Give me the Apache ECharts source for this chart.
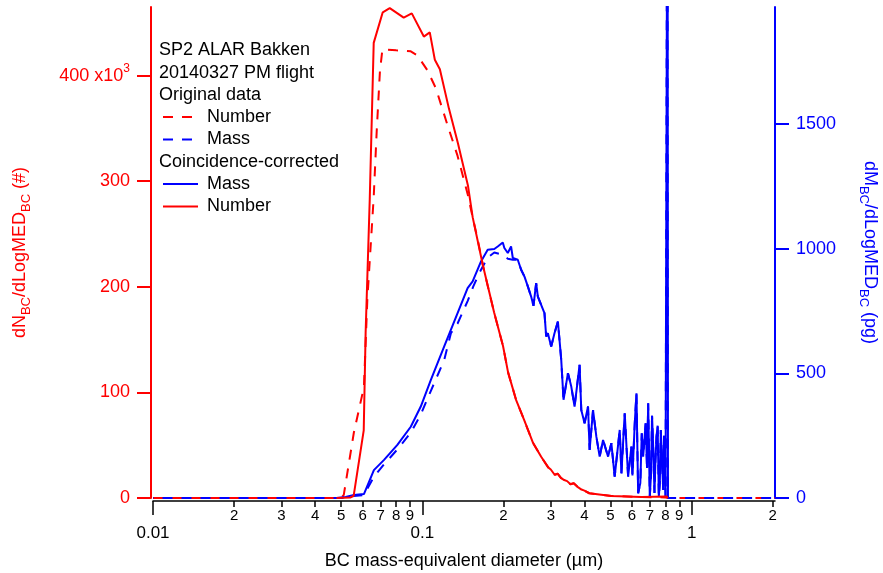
<!DOCTYPE html>
<html><head><meta charset="utf-8">
<script src="https://cdn.jsdelivr.net/npm/echarts@6/dist/echarts.min.js"></script>
<style>html,body{margin:0;padding:0;background:#fff}#c{width:883px;height:573px}</style>
</head><body><div id="c"></div>
<script>
// ---- data (diameter in µm; number in 10^3 #; mass in pg) ----
const diamOrigNumber = [0.01,0.05,0.0511,0.0557,0.0607,0.0625,0.0660,0.0677,0.0696,0.0711,0.080,0.0906,0.0960,0.1045,0.1123,0.1241,0.1352,0.1473,0.1538,0.1605,0.1680,0.1749,0.1851,0.1994,0.2082,0.2229,0.2388,0.2579,0.2763,0.2934,0.300,0.310,0.318,0.327,0.3365,0.345,0.355,0.365,0.3795,0.390,0.400,0.4170,0.5035,0.6514,0.80,0.82,2.04];
const valOrigNumber  = [0,0,3,62,105,188,285,347,404,425,424,423,419,405,388,353,324,288,266,245,220,201,175,144,119,93,74,52,39,29,27,22,23,19,17,16,13,14,10,8,7,4.5,2,1,0.5,0,0];

const diamCorrNumber = [0.048,0.054,0.0556,0.0606,0.0616,0.0638,0.0660,0.0713,0.0757,0.0853,0.0914,0.1013,0.1066,0.1113,0.1162,0.1255,0.1356,0.1477,0.1538,0.1680,0.1847,0.1994,0.2082,0.2229,0.2388,0.2579,0.2763,0.2934,0.300,0.310,0.318,0.327,0.3365,0.345,0.355,0.365,0.3795,0.390,0.400,0.4170,0.5035,0.6514,0.8073,0.815];
const valCorrNumber  = [0,0.5,2,64,157,283,431,460,464,455,459,437,441,415,406,369,336,296,266,220,176,144,119,93,74,52,39,29,27,22,23,19,17,16,13,14,10,8,7,4.5,2,1,1.5,0];

const diamOrigMass = [0.01,0.05,0.0557,0.0607,0.0661,0.0721,0.0808,0.0906,0.0987,0.1076,0.1206,0.1277,0.1352,0.1473,0.1548,0.1627,0.1749,0.1851,0.1990,0.2077,0.2168,0.2262,0.2328,0.2394,0.2465,0.2536,0.2587,0.2647,0.2686,0.2842,0.2884,0.2926,0.3010,0.3096,0.3188,0.3280,0.3345,0.3474,0.3574,0.3676,0.3837,0.3893,0.4005,0.4124,0.4181,0.4305,0.4429,0.4556,0.4690,0.4896,0.5035,0.5180,0.5408,0.5487,0.5644,0.5810,0.5977,0.6030,0.6150,0.6240,0.6331,0.6450,0.6530,0.6608,0.6750,0.6830,0.6898,0.6994,0.7070,0.7130,0.7200,0.7280,0.7340,0.7407,0.7480,0.7555,0.7620,0.7686,0.7760,0.7845,0.7900,0.7954,0.8002,0.8130,0.8160,2.04];
const valOrigMass  = [0,0,8,12,85,135,195,262,335,430,554,661,700,790,850,902,965,985,976,960,956,956,916,889,849,808,771,862,808,742,648,661,608,661,708,554,394,501,447,367,534,353,300,367,193,353,246,166,233,166,220,86,273,99,340,86,206,90,300,420,19,60,260,166,300,120,380,5,100,330,206,20,150,246,290,5,60,273,150,32,250,166,5,3000,0,0];

const diamCorrMass = [0.048,0.0519,0.0557,0.0607,0.0661,0.0721,0.0808,0.0906,0.0987,0.1076,0.1206,0.1352,0.1473,0.1538,0.1652,0.1749,0.1851,0.1906,0.1990,0.2017,0.2077,0.2136,0.2168,0.2262,0.2328,0.2394,0.2465,0.2536,0.2587,0.2647,0.2686,0.2842,0.2884,0.2926,0.3010,0.3096,0.3188,0.3280,0.3345,0.3474,0.3574,0.3676,0.3837,0.3893,0.4005,0.4124,0.4181,0.4305,0.4429,0.4556,0.4690,0.4896,0.5035,0.5180,0.5408,0.5487,0.5644,0.5810,0.5977,0.6030,0.6150,0.6240,0.6331,0.6450,0.6530,0.6608,0.6750,0.6830,0.6898,0.6994,0.7070,0.7130,0.7200,0.7280,0.7340,0.7407,0.7480,0.7555,0.7620,0.7686,0.7760,0.7845,0.7900,0.7954,0.8002,0.8140,0.8170];
const valCorrMass  = [0,4,12,16,112,153,213,286,367,474,608,742,842,869,949,996,999,1009,1025,1003,983,1009,963,956,916,889,849,808,771,862,808,742,648,661,608,661,708,554,394,501,447,367,534,353,300,367,193,353,246,166,233,166,220,86,273,99,340,86,206,90,300,420,19,60,260,166,300,120,380,5,100,330,206,20,150,246,290,5,60,273,150,32,250,166,5,3000,0];

const xMin = 0.01, xMax = 2.04;
const minorTickValues = [0.02,0.03,0.04,0.05,0.06,0.07,0.08,0.09,0.2,0.3,0.4,0.5,0.6,0.7,0.8,0.9,2];
const minorTickLabels = ['2','3','4','5','6','7','8','9','2','3','4','5','6','7','8','9','2'];
const majorTickValues = [0.01,0.1,1];
const majorTickLabels = ['0.01','0.1','1'];
const leftTickValues = [0,100,200,300,400];
const leftTickLabels = ['0','100','200','300','400 x10{sup|3}'];
const leftMax = 465;
const rightTickValues = [0,500,1000,1500];
const rightTickLabels = ['0','500','1000','1500'];
const rightMax = 1970;

// ---- chart ----
const FONT = 'Liberation Sans, Arial, sans-serif';
const RED = '#ff0000', BLUE = '#0000ff';
function zip(a,b){ return a.map((v,i)=>[v,b[i]]); }
function lookup(vals, labels, v, tf){
  for (let i=0;i<vals.length;i++){ if (Math.abs(tf(vals[i]) - v) < 1e-6) return labels[i]; }
  return '';
}
const lg = Math.log10;
const chart = echarts.init(document.getElementById('c'), null, {renderer:'canvas'});
const legendCommon = {
  orient:'vertical', left:162, padding:0, itemWidth:35, itemHeight:14, itemGap:0.4,
  selectedMode:false, formatter: n => n.split(' (')[0],
  itemStyle:{opacity:0, borderWidth:0},
  textStyle:{fontSize:18, lineHeight:22, color:'#000', fontFamily:FONT, padding:[0,0,0,4]},
  lineStyle:{dashOffset:0}
};
chart.setOption({
  animation:false,
  backgroundColor:'#fff',
  textStyle:{fontFamily:FONT},
  title:[
    {text:'SP2 ALAR Bakken\n20140327 PM flight\nOriginal data', left:159, top:39, padding:0,
     textStyle:{fontSize:18, fontWeight:'normal', color:'#000', lineHeight:22.4, fontFamily:FONT}},
    {text:'Coincidence-corrected', left:159, top:151, padding:0,
     textStyle:{fontSize:18, fontWeight:'normal', color:'#000', lineHeight:22.4, fontFamily:FONT}}
  ],
  legend:[
    Object.assign({data:['Number (original)','Mass (original)'], top:106}, legendCommon),
    Object.assign({data:['Mass (corrected)','Number (corrected)'], top:173}, legendCommon)
  ],
  grid:{left:153, right:108, top:7, bottom:75, containLabel:false, outerBoundsMode:'none'},
  xAxis:[
    {type:'value', min:-2, max:lg(xMax), position:'bottom', offset:3,
     axisLine:{show:true, onZero:false, lineStyle:{color:'#000', width:1.5}},
     axisTick:{show:true, customValues:minorTickValues.map(lg), length:6, lineStyle:{color:'#000', width:1.5}},
     axisLabel:{customValues:minorTickValues.map(lg), formatter:v=>lookup(minorTickValues,minorTickLabels,v,lg),
       fontSize:15, margin:7, color:'#000', fontFamily:FONT},
     splitLine:{show:false},
     name:'BC mass-equivalent diameter (µm)', nameLocation:'middle', nameGap:49,
     nameTextStyle:{fontSize:18, color:'#000', fontFamily:FONT, lineHeight:22}},
    {type:'value', min:-2, max:lg(xMax), position:'bottom', offset:3,
     axisLine:{show:false, onZero:false},
     axisTick:{show:true, customValues:majorTickValues.map(lg), length:14, lineStyle:{color:'#000', width:1.5}},
     axisLabel:{customValues:majorTickValues.map(lg), formatter:v=>lookup(majorTickValues,majorTickLabels,v,lg),
       fontSize:17, margin:24, color:'#000', fontFamily:FONT},
     splitLine:{show:false}},
    {type:'log', logBase:10, min:xMin, max:xMax, show:false, axisLine:{onZero:false}}
  ],
  yAxis:[
    {type:'value', position:'left', min:0, max:leftMax, offset:2,
     axisLine:{show:true, onZero:false, lineStyle:{color:RED, width:2}},
     axisTick:{show:true, customValues:leftTickValues, length:14, lineStyle:{color:RED, width:2}},
     axisLabel:{customValues:leftTickValues, formatter:v=>lookup(leftTickValues,leftTickLabels,v,x=>x),
       color:RED, fontSize:18, margin:21, lineHeight:26, fontFamily:FONT,
       rich:{sup:{fontSize:12, lineHeight:12, verticalAlign:'top', color:RED, fontFamily:FONT}}},
     splitLine:{show:false},
     name:'dN{sub|BC}/dLogMED{sub|BC} (#)', nameLocation:'middle', nameGap:118,
     nameTextStyle:{color:RED, fontSize:18, lineHeight:26, fontFamily:FONT,
       rich:{sub:{fontSize:13, lineHeight:13, verticalAlign:'bottom', color:RED, fontFamily:FONT}}}},
    {type:'value', position:'right', min:0, max:rightMax,
     axisLine:{show:true, onZero:false, lineStyle:{color:BLUE, width:2}},
     axisTick:{show:true, customValues:rightTickValues, length:14, lineStyle:{color:BLUE, width:2}},
     axisLabel:{customValues:rightTickValues, formatter:v=>lookup(rightTickValues,rightTickLabels,v,x=>x),
       color:BLUE, fontSize:18, margin:21, fontFamily:FONT},
     splitLine:{show:false},
     name:'dM{sub|BC}/dLogMED{sub|BC} (pg)', nameLocation:'middle', nameGap:82, nameRotate:-90,
     nameTextStyle:{color:BLUE, fontSize:18, lineHeight:26, fontFamily:FONT,
       rich:{sub:{fontSize:13, lineHeight:13, verticalAlign:'bottom', color:BLUE, fontFamily:FONT}}}}
  ],
  series:[
    {name:'Number (original)', type:'line', xAxisIndex:2, yAxisIndex:0, symbol:'none', z:2,
     data:zip(diamOrigNumber,valOrigNumber), itemStyle:{color:RED},
     lineStyle:{color:RED, width:2, type:[10,9], dashOffset:0}},
    {name:'Mass (original)', type:'line', xAxisIndex:2, yAxisIndex:1, symbol:'none', z:3,
     data:zip(diamOrigMass,valOrigMass), itemStyle:{color:BLUE},
     lineStyle:{color:BLUE, width:2, type:[10,9], dashOffset:9.5}},
    {name:'Mass (corrected)', type:'line', xAxisIndex:2, yAxisIndex:1, symbol:'none', z:4,
     data:zip(diamCorrMass,valCorrMass), itemStyle:{color:BLUE},
     lineStyle:{color:BLUE, width:2}},
    {name:'Number (corrected)', type:'line', xAxisIndex:2, yAxisIndex:0, symbol:'none', z:4,
     data:zip(diamCorrNumber,valCorrNumber), itemStyle:{color:RED},
     lineStyle:{color:RED, width:2}}
  ]
});
</script></body></html>
